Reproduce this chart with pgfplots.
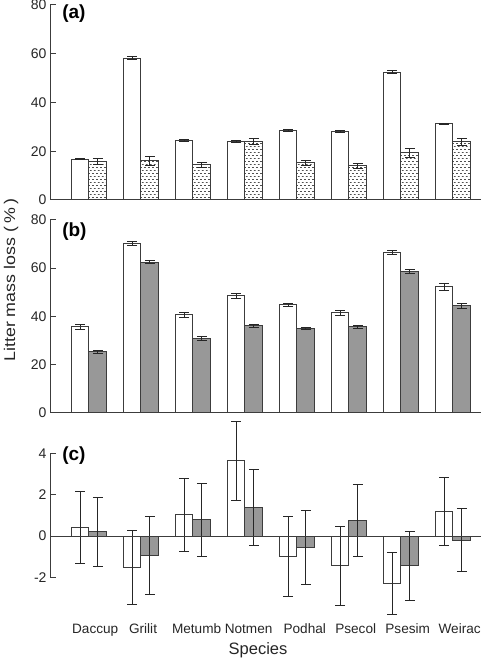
\documentclass[border=0pt]{standalone}
\usepackage{pgfplots}
\pgfplotsset{compat=1.18}
\usepackage{pgfplotstable}
\usetikzlibrary{patterns}
\usepackage{fontspec}
\setmainfont{Liberation Sans}

\definecolor{edge}{RGB}{60,60,60}
\definecolor{barg}{RGB}{152,152,152}
\definecolor{hatchc}{RGB}{80,80,80}

\pgfdeclarepatternformonly{dashhatch}{\pgfqpoint{0bp}{0bp}}{\pgfqpoint{4.2bp}{6.4bp}}{\pgfqpoint{4.2bp}{6.4bp}}{%
  \pgfsetlinewidth{0.8bp}%
  \pgfpathmoveto{\pgfqpoint{0.1bp}{1.6bp}}\pgfpathlineto{\pgfqpoint{2.1bp}{1.6bp}}%
  \pgfpathmoveto{\pgfqpoint{2.2bp}{4.8bp}}\pgfpathlineto{\pgfqpoint{4.2bp}{4.8bp}}%
  \pgfusepath{stroke}}

\pgfplotstableread{
x w we h he
0 16.8 0.3 15.8 1.1
1 58.2 0.5 16.0 1.8
2 24.4 0.4 14.4 1.0
3 24.0 0.3 24.0 1.3
4 28.4 0.4 15.3 1.0
5 28.3 0.4 14.0 1.0
6 52.4 0.6 19.4 1.8
7 31.2 0.4 23.8 1.5
}\tabA

\pgfplotstableread{
x w we h he
0 35.7 1.0 25.3 0.5
1 70.2 0.7 62.5 0.6
2 40.6 1.0 30.9 0.8
3 48.5 1.1 36.0 0.6
4 44.8 0.7 34.9 0.4
5 41.4 1.0 35.6 0.7
6 66.5 1.0 58.7 0.8
7 52.2 1.3 44.3 1.2
}\tabB

\pgfplotstableread{
x w we h he
0 0.40 1.74 0.20 1.68
1 -1.52 1.77 -0.94 1.90
2 1.03 1.75 0.78 1.76
3 3.64 1.92 1.40 1.84
4 -0.97 1.93 -0.55 1.77
5 -1.42 1.91 0.76 1.73
6 -2.29 1.49 -1.44 1.65
7 1.21 1.64 -0.19 1.53
}\tabC

\pgfplotsset{
  panel/.style={
    scale only axis, width=431bp,
    xmin=-0.75, xmax=7.54,
    axis x line=bottom, axis y line=left,
    axis line style={-, draw=edge, line width=1bp},
    tick align=inside, major tick length=6bp,
    ytick style={draw=edge, line width=1bp},
    xtick style={draw=none},
    ticklabel style={font=\fontsize{14bp}{16bp}\selectfont, text=black!85},
    /pgf/number format/assume math mode=true,
    ybar, clip=false,
    bar width=0.34,
    error bars/y dir=both, error bars/y explicit,
    error bars/error bar style={draw=black!85, line width=0.9bp},
    error bars/error mark options={rotate=90, mark size=5bp, line width=0.9bp, draw=black!85},
  },
  wbar/.style={bar shift=-0.17, draw=edge, line width=1bp, fill=white},
  gbar/.style={bar shift=0.17, draw=edge, line width=1bp, fill=barg},
  hbar/.style={bar shift=0.17, draw=edge, line width=1bp, fill=white, postaction={pattern=dashhatch, pattern color=hatchc}},
}
\tikzset{plabel/.style={font=\bfseries\fontsize{19bp}{21bp}\selectfont, anchor=west, inner sep=0pt}}

\begin{document}
\begin{tikzpicture}
\path[use as bounding box] (0,0) rectangle (484bp,659bp);

% Panel (a)
\begin{axis}[panel, at={(50bp,459bp)}, anchor=south west, height=195bp,
  ymin=0, ymax=80, ytick={0,20,40,60,80}, xtick=\empty]
  \addplot[wbar] table[x=x, y=w, y error=we] {\tabA};
  \addplot[hbar] table[x=x, y=h, y error=he] {\tabA};
  \node[plabel] at (rel axis cs:0.028,0.955) {(a)};
\end{axis}

% Panel (b)
\begin{axis}[panel, at={(50bp,246.3bp)}, anchor=south west, height=192.7bp,
  ymin=0, ymax=80, ytick={0,20,40,60,80}, xtick=\empty]
  \addplot[wbar] table[x=x, y=w, y error=we] {\tabB};
  \addplot[gbar] table[x=x, y=h, y error=he] {\tabB};
  \node[plabel] at (rel axis cs:0.028,0.94) {(b)};
\end{axis}

% Panel (c)
\begin{axis}[panel, at={(50bp,81.5bp)}, anchor=south west, height=124.2bp,
  ymin=-2, ymax=4, ytick={-2,0,2,4},
  x axis line style={draw=none},
  xtick={0.12,1.04,2.07,3.07,4.15,5.13,6.13,7.13},
  xticklabels={Daccup,Grilit,Metumb,Notmen,Podhal,Psecol,Psesim,Weirac},
  xticklabel style={anchor=base, yshift=-50bp, font=\fontsize{13.6bp}{16bp}\selectfont}]
  \addplot[wbar] table[x=x, y=w, y error=we] {\tabC};
  \addplot[gbar] table[x=x, y=h, y error=he] {\tabC};
  \draw[edge, line width=1bp] (axis cs:-0.75,0) -- (axis cs:7.54,0);
  \node[plabel] at (rel axis cs:0.028,0.985) {(c)};
\end{axis}

\node[font=\fontsize{16.5bp}{18bp}\selectfont, text=black!85] at (258bp,9bp) {Species};
\node[font=\fontsize{15.5bp}{18bp}\selectfont, text=black!85, rotate=90] at (11bp,379bp) {\scalebox{1.15}[1]{Litter mass loss\hspace{0.3em}(\hspace{0.18em}\%\hspace{0.18em})}};
\end{tikzpicture}
\end{document}
